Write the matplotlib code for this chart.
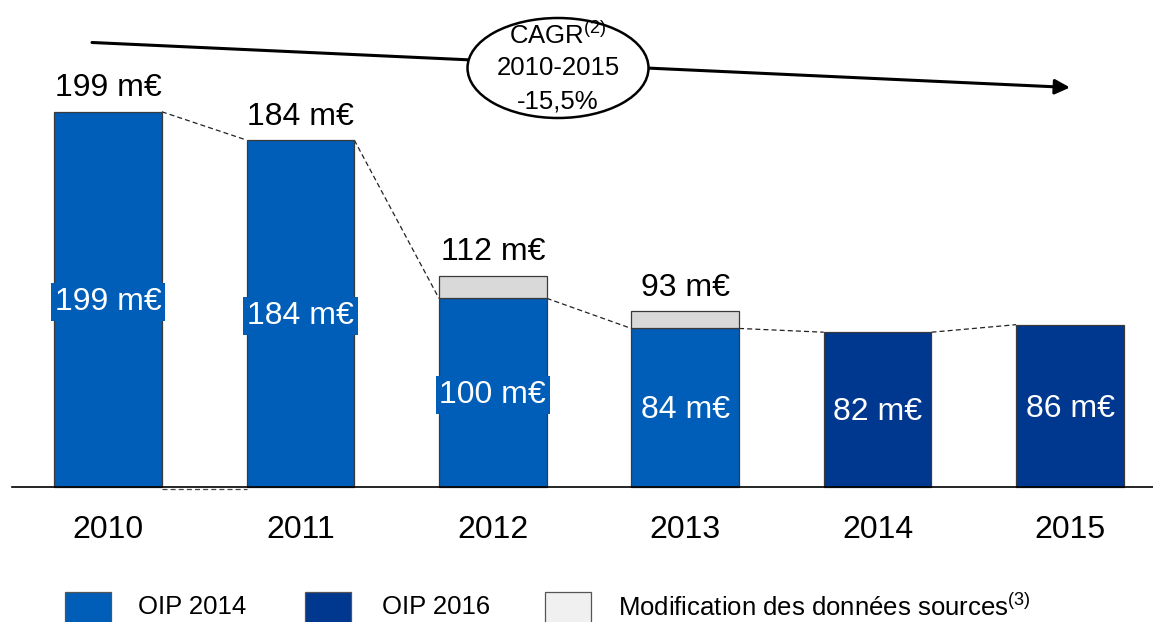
import matplotlib
matplotlib.use("Agg")
import matplotlib.pyplot as plt
from matplotlib.patches import Ellipse, Rectangle

plt.rcParams['font.family'] = ['Liberation Sans', 'DejaVu Sans']
plt.rcParams['mathtext.fontset'] = 'custom'
plt.rcParams['mathtext.rm'] = 'Liberation Sans'
plt.rcParams['mathtext.it'] = 'Liberation Sans'

# ---- data ----
years = ['2010', '2011', '2012', '2013', '2014', '2015']
base_values = [199, 184, 100, 84, 82, 86]
base_series = ['OIP 2014', 'OIP 2014', 'OIP 2014', 'OIP 2014', 'OIP 2016', 'OIP 2016']
modification = [0, 0, 12, 9, 0, 0]
top_labels = ['199 m€', '184 m€', '112 m€', '93 m€', None, None]
inner_labels = ['199 m€', '184 m€', '100 m€', '84 m€', '82 m€', '86 m€']
inner_boxed = [True, True, True, False, False, False]
cagr_lines = ['CAGR$^{(2)}$', '2010-2015', '-15,5%']
legend_labels = ['OIP 2014', 'OIP 2016', 'Modification des données sources$^{(3)}$']

colors = {'OIP 2014': '#005EB8', 'OIP 2016': '#00378F', 'mod': '#D9D9D9'}
legend_colors = ['#005EB8', '#00378F', '#F0F0F0']

W, H = 1153, 622
fig = plt.figure(figsize=(W / 100, H / 100), dpi=100)
ax = fig.add_axes([0, 0, 1, 1])

px_per_unit = 1.884
base_px = 486.7
x0_px = 108.0
dx_px = 192.4
ax.set_ylim(-(H - base_px) / px_per_unit, base_px / px_per_unit)
ax.set_xlim(-x0_px / dx_px, (W - x0_px) / dx_px)
ax.axis('off')

def fx(px):
    return px / W

def fy(py):
    return 1 - py / H

bw = 0.56
xs = list(range(len(years)))
bar_colors = [colors[s] for s in base_series]
ax.bar(xs, base_values, width=bw, color=bar_colors, edgecolor='#3a3a3a', linewidth=0.9, zorder=3)
mod_x = [x for x, m in zip(xs, modification) if m > 0]
mod_b = [b for b, m in zip(base_values, modification) if m > 0]
mod_h = [m for m in modification if m > 0]
ax.bar(mod_x, mod_h, bottom=mod_b, width=bw, color=colors['mod'], edgecolor='#3a3a3a', linewidth=0.9, zorder=3)

# baseline
ax.plot([fx(12), 1], [fy(base_px), fy(base_px)], transform=ax.transAxes, color='black', lw=1.2, zorder=4)

# dashed connectors between blue tops
for i in range(len(xs) - 1):
    ax.plot([xs[i] + bw / 2, xs[i + 1] - bw / 2], [base_values[i], base_values[i + 1]],
            color='#222222', lw=0.9, ls=(0, (4, 2.5)), zorder=2)
ax.plot([xs[0] + bw / 2, xs[1] - bw / 2], [-1.0, -1.0], color='#444444', lw=0.9, ls=(0, (4, 2.5)), zorder=2)

# labels
for i, x in enumerate(xs):
    total = base_values[i] + modification[i]
    if top_labels[i]:
        ax.text(x, total + 4.5, top_labels[i], ha='center', va='bottom', fontsize=23, color='black', zorder=5)
    kw = {}
    if inner_boxed[i]:
        kw['bbox'] = dict(boxstyle='square,pad=0.12', facecolor=bar_colors[i], edgecolor='none')
    ax.text(x, base_values[i] / 2 - 1.5, inner_labels[i], ha='center', va='center', fontsize=23,
            color='white', zorder=5, **kw)
    ax.text(x, -23.0, years[i], ha='center', va='center', fontsize=23, color='black')

# CAGR arrow and ellipse
ax.annotate('', xy=(fx(1070), fy(87.5)), xytext=(fx(92), fy(42.5)),
            xycoords='axes fraction', textcoords='axes fraction',
            arrowprops=dict(arrowstyle='-|>,head_length=0.9,head_width=0.45', color='black', lw=2.2,
                            shrinkA=0, shrinkB=0), zorder=4)
ell = Ellipse((fx(558), fy(68)), width=181 / W, height=100 / H, transform=ax.transAxes,
              facecolor='white', edgecolor='black', lw=1.8, zorder=5)
ax.add_patch(ell)
for j, (t, py) in enumerate(zip(cagr_lines, [35, 68, 101])):
    ax.text(fx(558), fy(py), t, transform=ax.transAxes, ha='center', va='center', fontsize=18.5, zorder=6)

# legend
legend_box_x = [65, 305, 545]
legend_text_x = [138, 382, 618]
for c, bx, tx, lab in zip(legend_colors, legend_box_x, legend_text_x, legend_labels):
    ax.add_patch(Rectangle((fx(bx), fy(626)), 46 / W, 34 / H, transform=ax.transAxes,
                           facecolor=c, edgecolor='#555555', lw=0.9, clip_on=False, zorder=5))
    ax.text(fx(tx), fy(607), lab, transform=ax.transAxes, ha='left', va='center', fontsize=18.5)

fig.savefig('out.png', dpi=100)
